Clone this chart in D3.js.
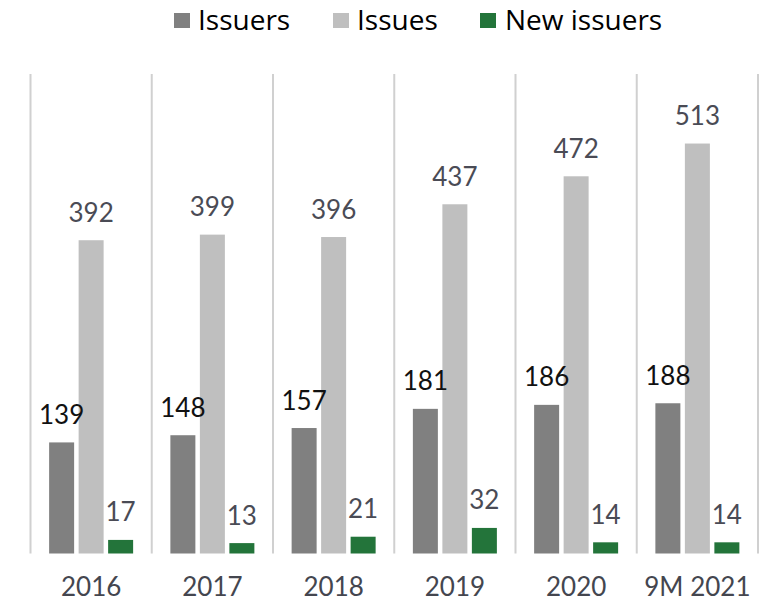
<!DOCTYPE html>
<html>
<head>
<meta charset="utf-8">
<script src="https://cdn.jsdelivr.net/npm/d3@7"></script>
<style>
  html, body { margin: 0; padding: 0; background: #fff; }
  svg { display: block; }
</style>
</head>
<body>
<svg id="chart" width="777" height="602"></svg>
<script>
const categories = ["2016", "2017", "2018", "2019", "2020", "9M 2021"];
const seriesNames = ["Issuers", "Issues", "New issuers"];
const issuers = [139, 148, 157, 181, 186, 188];
const issues = [392, 399, 396, 437, 472, 513];
const newIssuers = [17, 13, 21, 32, 14, 14];
const seriesColors = ["#808080", "#bfbfbf", "#23743a"];
const labelColors = ["#111111", "#4a4b55", "#4a4b55"];

const seriesValues = [issuers, issues, newIssuers];
const svg = d3.select("#chart");

const mLeft = 30.5, mRight = 758, mTop = 74, mBottom = 553.5;
const x = d3.scaleBand().domain(categories).range([mLeft, mRight]).paddingInner(0).paddingOuter(0);
const y = d3.scaleLinear().domain([0, 600]).range([mBottom, mTop]);

const barW = 25, gap = 4.5;
const groupW = 3 * barW + 2 * gap;

// gridlines (category separators)
const sepPositions = categories.map(c => x(c)).concat([x(categories[categories.length - 1]) + x.bandwidth()]);
svg.append("g").selectAll("line").data(sepPositions).join("line")
  .attr("x1", d => d).attr("x2", d => d)
  .attr("y1", y(600)).attr("y2", y(0))
  .attr("stroke", "#d0d0d0").attr("stroke-width", 2);

const data = [];
categories.forEach((c, i) => {
  seriesValues.forEach((vals, s) => {
    data.push({ cat: c, s, v: vals[i] });
  });
});

const bx = d => x(d.cat) + x.bandwidth() / 2 - groupW / 2 + d.s * (barW + gap);

svg.append("g").selectAll("rect").data(data).join("rect")
  .attr("x", bx)
  .attr("y", d => y(d.v))
  .attr("width", barW)
  .attr("height", d => y(0) - y(d.v))
  .attr("fill", d => seriesColors[d.s]);

svg.append("g").selectAll("text").data(data).join("text")
  .attr("x", d => bx(d) + barW / 2)
  .attr("y", d => y(d.v) - 18.5)
  .attr("text-anchor", "middle")
  .attr("font-family", "Lato, sans-serif")
  .attr("font-size", 26)
  .attr("fill", d => labelColors[d.s])
  .text(d => d.v);

// x axis labels
const xAxis = d3.axisBottom(x).tickSize(0).tickPadding(0);
const gx = svg.append("g").attr("transform", `translate(0,${mBottom})`).call(xAxis);
gx.select(".domain").remove();
gx.selectAll("text")
  .attr("y", 42)
  .attr("dy", null)
  .attr("font-family", "Lato, sans-serif")
  .attr("font-size", 26)
  .attr("fill", "#44464f");

// legend
const legendItems = [
  { name: seriesNames[0], color: seriesColors[0], sx: 174, tx: 198 },
  { name: seriesNames[1], color: seriesColors[1], sx: 333, tx: 357 },
  { name: seriesNames[2], color: seriesColors[2], sx: 480, tx: 505 }
];
const lg = svg.append("g");
legendItems.forEach(it => {
  lg.append("rect").attr("x", it.sx).attr("y", 13).attr("width", 16).attr("height", 15).attr("fill", it.color);
  lg.append("text").attr("x", it.tx).attr("y", 30)
    .attr("font-family", "'Open Sans', sans-serif")
    .attr("font-size", 28)
    .attr("fill", "#000")
    .text(it.name);
});
</script>
</body>
</html>
